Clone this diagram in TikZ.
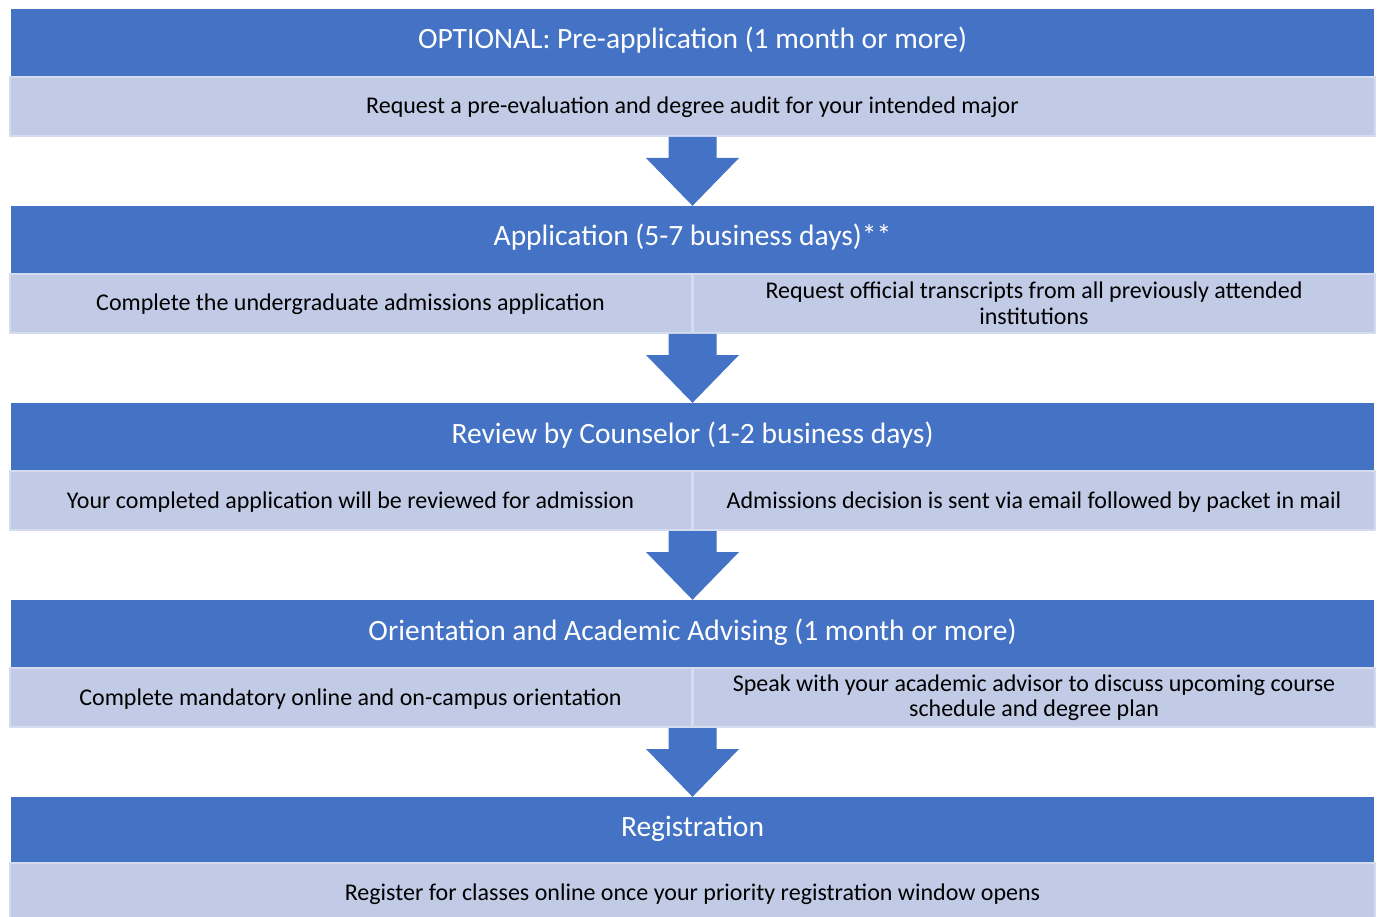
\documentclass[tikz,border=0pt]{standalone}
\usepackage{fontspec}
\setmainfont{Carlito}
\usetikzlibrary{positioning,calc}

\definecolor{stepblue}{HTML}{4472C4}
\definecolor{rowfill}{HTML}{C1CBE6}
\definecolor{rowedge}{HTML}{D6DCEF}

\tikzset{
  hdr/.style={fill=stepblue, text=white, inner sep=0pt, minimum width=1363pt, minimum height=67pt,
    text height=20pt, text depth=7pt, font=\fontsize{29.5}{32}\selectfont},
  row/.style={fill=rowfill, draw=rowedge, line width=2pt, inner sep=0pt, minimum height=59pt,
    text height=20pt, text depth=5pt, font=\fontsize{24}{25.5}\selectfont},
  tworow/.style={text height=, text depth=, align=center},
  fullrow/.style={row, minimum width=1365pt},
  halfrow/.style={row, minimum width=682pt},
}
\newcommand\blockarrow[2]{\fill[stepblue] ($(#1)+(-24,0)$) -- ++(0,21) -- ++(-22.5,0) -- (#2)
  -- ($(#1)+(46.5,21)$) -- ++(-22.5,0) -- ++(0,-21) -- cycle;}

\begin{document}
\begin{tikzpicture}[x=1pt,y=-1pt]
%%%%% START %%%%%
\useasboundingbox (0,0) rectangle (1379,917);
\clip (0,0) rectangle (1379,917);

% rows
\node[fullrow] (r1) at (692.5, 106.5) {Request a pre-evaluation and degree audit for your intended major};
\node[halfrow] (r2a) at (350.5, 303.5) {Complete the undergraduate admissions application};
\node[halfrow, tworow] (r2b) at (1034, 303.5) {Request official transcripts from all previously attended\\institutions};
\node[halfrow] (r3a) at (350.5, 500.5) {Your completed application will be reviewed for admission};
\node[halfrow] (r3b) at (1034, 500.5) {Admissions decision is sent via email followed by packet in mail};
\node[halfrow] (r4a) at (350.5, 697.5) {Complete mandatory online and on-campus orientation};
\node[halfrow, tworow] (r4b) at (1034, 697.5) {Speak with your academic advisor to discuss upcoming course\\schedule and degree plan};
\node[fullrow] (r5) at (692.5, 892.5) {Register for classes online once your priority registration window opens};

% headers
\node[hdr] (h1) at (692.5, 42.5) {OPTIONAL: Pre-application (1 month or more)};
\node[hdr] (h2) at (692.5, 239.5) {Application (5-7 business days)**};
\node[hdr] (h3) at (692.5, 436.5) {Review by Counselor (1-2 business days)};
\node[hdr] (h4) at (692.5, 633.5) {Orientation and Academic Advising (1 month or more)};
\node[hdr, minimum height=65pt] (h5) at (692.5, 829.5) {Registration};

% arrows
\coordinate (s1) at (h1 |- r1.south);
\coordinate (s2) at (h2 |- r2a.south);
\coordinate (s3) at (h3 |- r3a.south);
\coordinate (s4) at (h4 |- r4a.south);
\blockarrow{s1}{h2.north}
\blockarrow{s2}{h3.north}
\blockarrow{s3}{h4.north}
\blockarrow{s4}{h5.north}
%%%%% END %%%%%
\end{tikzpicture}
\end{document}
